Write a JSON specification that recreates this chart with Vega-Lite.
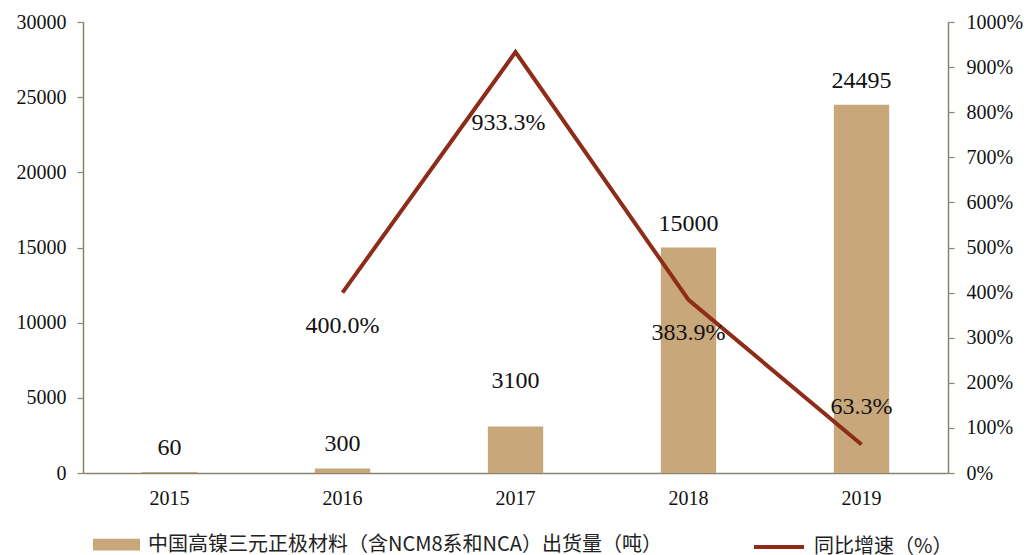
{
  "$schema": "https://vega.github.io/schema/vega-lite/v6.json",
  "width": 865,
  "height": 451,
  "autosize": "none",
  "padding": {"left": 83, "top": 22, "right": 82, "bottom": 82},
  "background": "white",
  "config": {
    "view": {"stroke": null},
    "font": "Liberation Serif",
    "mark": {"font": "Liberation Serif"},
    "axis": {"labelFont": "Liberation Serif", "labelFontSize": 20, "labelColor": "#111", "domainColor": "#898371", "tickColor": "#898371", "domainWidth": 1.5, "tickWidth": 1.2, "grid": false, "title": null}
  },
  "data": {
    "values": [
      {"year": "2015", "qty": 60, "growth": null},
      {"year": "2016", "qty": 300, "growth": 4.0},
      {"year": "2017", "qty": 3100, "growth": 9.333},
      {"year": "2018", "qty": 15000, "growth": 3.839},
      {"year": "2019", "qty": 24495, "growth": 0.633}
    ]
  },
  "encoding": {
    "x": {"field": "year", "type": "ordinal", "scale": {"paddingInner": 0, "paddingOuter": 0}, "axis": {"labelAngle": 0, "ticks": false, "labelPadding": 15, "domainColor": "#898371"}}
  },
  "layer": [
    {
      "mark": {"type": "bar", "width": {"band": 0.32}},
      "encoding": {
        "y": {"field": "qty", "type": "quantitative", "scale": {"domain": [0, 30000], "nice": false}, "axis": {"orient": "left", "values": [0, 5000, 10000, 15000, 20000, 25000, 30000], "format": "d", "tickSize": 6, "labelPadding": 11}},
        "fill": {"datum": "中国高镍三元正极材料（含NCM8系和NCA）出货量（吨）", "type": "nominal", "scale": {"range": ["#C8A87A"]},
          "legend": {"orient": "none", "legendX": 10, "legendY": 499, "title": null, "labelFont": "Noto Sans CJK SC", "labelFontSize": 20, "labelColor": "#222", "symbolType": "M-1,-0.25L1,-0.25L1,0.25L-1,0.25Z", "symbolSize": 2209, "symbolStrokeWidth": 0, "labelOffset": 8, "labelLimit": 700}}
      }
    },
    {
      "transform": [{"filter": "datum.year != '2017'"}],
      "mark": {"type": "text", "baseline": "alphabetic", "dy": -17, "fontSize": 24, "fill": "#111", "font": "Liberation Serif"},
      "encoding": {
        "y": {"field": "qty", "type": "quantitative", "scale": {"domain": [0, 30000], "nice": false}, "axis": null},
        "text": {"field": "qty", "type": "quantitative", "format": "d"}
      }
    },
    {
      "transform": [{"filter": "datum.year == '2017'"}],
      "mark": {"type": "text", "baseline": "alphabetic", "dy": -38, "fontSize": 24, "fill": "#111", "font": "Liberation Serif"},
      "encoding": {
        "y": {"field": "qty", "type": "quantitative", "scale": {"domain": [0, 30000], "nice": false}, "axis": null},
        "text": {"field": "qty", "type": "quantitative", "format": "d"}
      }
    },
    {
      "transform": [{"filter": "datum.growth != null"}],
      "mark": {"type": "line", "strokeWidth": 4},
      "encoding": {
        "y": {"field": "growth", "type": "quantitative", "scale": {"domain": [0, 10], "nice": false}, "axis": {"orient": "right", "values": [0, 1, 2, 3, 4, 5, 6, 7, 8, 9, 10], "format": ".0%", "tickSize": 6, "labelPadding": 12}},
        "stroke": {"datum": "同比增速（%）", "type": "nominal", "scale": {"range": ["#8E2C18"]},
          "legend": {"orient": "none", "legendX": 669, "legendY": 498, "title": null, "labelFont": "Noto Sans CJK SC", "labelFontSize": 20, "labelColor": "#222", "symbolType": "stroke", "symbolSize": 2500, "symbolStrokeWidth": 4, "labelOffset": 8, "labelLimit": 300}}
      }
    },
    {
      "transform": [{"filter": "datum.year == '2016' || datum.year == '2018'"}],
      "mark": {"type": "text", "baseline": "alphabetic", "dy": 40, "fontSize": 24, "fill": "#111", "font": "Liberation Serif"},
      "encoding": {
        "y": {"field": "growth", "type": "quantitative", "scale": {"domain": [0, 10], "nice": false}, "axis": null},
        "text": {"field": "growth", "type": "quantitative", "format": ".1%"}
      }
    },
    {
      "transform": [{"filter": "datum.year == '2017'"}],
      "mark": {"type": "text", "baseline": "alphabetic", "dy": 78, "dx": -7, "fontSize": 24, "fill": "#111", "font": "Liberation Serif"},
      "encoding": {
        "y": {"field": "growth", "type": "quantitative", "scale": {"domain": [0, 10], "nice": false}, "axis": null},
        "text": {"field": "growth", "type": "quantitative", "format": ".1%"}
      }
    },
    {
      "transform": [{"filter": "datum.year == '2019'"}],
      "mark": {"type": "text", "baseline": "alphabetic", "dy": -30, "fontSize": 24, "fill": "#111", "font": "Liberation Serif"},
      "encoding": {
        "y": {"field": "growth", "type": "quantitative", "scale": {"domain": [0, 10], "nice": false}, "axis": null},
        "text": {"field": "growth", "type": "quantitative", "format": ".1%"}
      }
    }
  ],
  "resolve": {"scale": {"y": "independent", "fill": "independent", "stroke": "independent"}}
}
